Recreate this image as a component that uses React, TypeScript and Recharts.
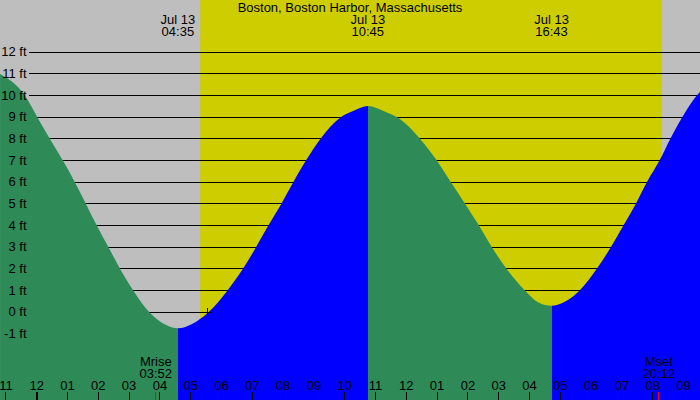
import React from 'react';
import { ComposedChart, Area, Scatter, XAxis, YAxis, CartesianGrid, ReferenceArea } from 'recharts';

const W = 700;
const H = 400;
const FONT = '"Liberation Sans", Arial, Helvetica, sans-serif';

const title = 'Boston, Boston Harbor, Massachusetts';

// tide curve (hours after midnight Jul 13, feet)
const tideHours = [
  -1.19, -0.38, 0.02, 0.43, 0.85, 1.24, 1.6, 1.95, 2.33, 2.71, 3.14, 3.66, 4.22, 4.583,
  5.03, 5.575, 6.19, 6.69, 7.12, 7.52, 7.94, 8.33, 8.74, 9.21, 9.87, 10.33, 10.75,
  11.31, 11.71, 12.45, 12.99, 13.45, 13.91, 14.36, 14.78, 15.26, 15.86, 16.29, 16.717,
  17.16, 17.62, 18.18, 18.64, 19.05, 19.45, 19.81, 20.22, 20.57, 20.96, 21.43, 21.536,
];
const tideFeet = [
  11.0, 10, 9, 8, 7, 6, 5, 4, 3, 2, 1, 0, -0.6, -0.74,
  -0.55, 0, 1, 2, 3, 4, 5, 6, 7, 8, 9, 9.33, 9.52,
  9.26, 9, 8, 7, 6, 5, 4, 3, 2, 1, 0.45, 0.3,
  0.5, 1, 2, 3, 4, 5, 6, 7, 8, 9, 10, 10.18,
];

// tide extremes (top labels)
const extremeHours = [4.583, 10.75, 16.717];
const extremeDates = ['Jul 13', 'Jul 13', 'Jul 13'];
const extremeTimes = ['04:35', '10:45', '16:43'];

// daylight
const sunriseHour = 5.31;
const sunsetHour = 20.3;

// moon
const moonHours = [3.867, 20.2];
const moonNames = ['Mrise', 'Mset'];
const moonTimes = ['03:52', '20:12'];

// axes
const hourTicks = [-1, 0, 1, 2, 3, 4, 5, 6, 7, 8, 9, 10, 11, 12, 13, 14, 15, 16, 17, 18, 19, 20, 21];
const footTicks = [-1, 0, 1, 2, 3, 4, 5, 6, 7, 8, 9, 10, 11, 12];

const markerHours = [5.55];
const markerFeet = [0];

const X_DOMAIN: [number, number] = [-1.1916, 21.536];
const Y_DOMAIN: [number, number] = [-4.047, 14.412];

const GRAY = '#BEBEBE';
const YELLOW = '#CDCD00';
const FALL = '#2E8B57';
const RISE = '#0000FF';

const points = tideHours.map((h, i) => ({ h, ft: tideFeet[i] }));
const markers = markerHours.map((h, i) => ({ h, ft: markerFeet[i] }));
const extremes = extremeHours.map((h, i) => ({
  h,
  ft: points.find((p) => p.h === h)!.ft,
  date: extremeDates[i],
  time: extremeTimes[i],
}));
const moons = moonHours.map((h, i) => ({ h, ft: Y_DOMAIN[0], name: moonNames[i], time: moonTimes[i] }));

// colour stops: falling water green, rising water blue, switching at each extreme
const span = tideHours[tideHours.length - 1] - tideHours[0];
const edges = [tideHours[0], ...extremeHours, tideHours[tideHours.length - 1]];
const stops: { offset: number; color: string }[] = [];
edges.slice(0, -1).forEach((a, i) => {
  const b = edges[i + 1];
  const seg = points.filter((p) => p.h >= a && p.h <= b);
  const color = seg[0].ft > seg[seg.length - 1].ft ? FALL : RISE;
  stops.push({ offset: (a - tideHours[0]) / span, color });
  stops.push({ offset: (b - tideHours[0]) / span, color });
});

const fmtHour = (h: number) => {
  let v = ((h % 12) + 12) % 12;
  if (v === 0) v = 12;
  return String(v).padStart(2, '0');
};

const textStyle = { fontFamily: FONT, fontSize: 13, fill: '#000' };

const HourTick = (props: any) => {
  const { x, payload } = props;
  const v = payload.value;
  return (
    <g>
      <line
        x1={x}
        x2={x}
        y1={392}
        y2={400}
        stroke="#000"
        strokeWidth={v % 24 === 0 ? 2 : 1}
        shapeRendering="crispEdges"
      />
      <text x={x} y={389.5} textAnchor="middle" {...textStyle}>
        {fmtHour(v)}
      </text>
    </g>
  );
};

const FootTick = (props: any) => {
  const { y, payload } = props;
  return (
    <text x={26.5} y={y + 4} textAnchor="end" {...textStyle}>
      {`${payload.value} ft`}
    </text>
  );
};

const MoonShape = (props: any) => {
  const { cx, cy, payload } = props;
  return (
    <g>
      <line x1={cx} x2={cx} y1={cy - 8} y2={cy} stroke="#FF0000" strokeWidth={1} shapeRendering="crispEdges" />
      <text x={cx} y={cy - 34} textAnchor="middle" {...textStyle}>
        {payload.name}
      </text>
      <text x={cx} y={cy - 22.5} textAnchor="middle" {...textStyle}>
        {payload.time}
      </text>
    </g>
  );
};

const TideLabel = (props: any) => {
  const { cx, payload } = props;
  return (
    <g>
      <text x={cx} y={24} textAnchor="middle" {...textStyle}>
        {payload.date}
      </text>
      <text x={cx} y={36} textAnchor="middle" {...textStyle}>
        {payload.time}
      </text>
    </g>
  );
};

const Plus = (props: any) => {
  const { cx, cy } = props;
  return (
    <g>
      <line x1={cx - 4.5} x2={cx + 4.5} y1={cy} y2={cy} stroke="#000" shapeRendering="crispEdges" />
      <line x1={cx} x2={cx} y1={cy - 4.5} y2={cy + 4.5} stroke="#000" shapeRendering="crispEdges" />
    </g>
  );
};

export default function App() {
  return (
    <div style={{ position: 'absolute', left: 0, top: 0, width: W, height: H, background: GRAY, overflow: 'hidden' }}>
      <ComposedChart width={W} height={H} margin={{ top: 0, right: 0, bottom: -1, left: -1 }}>
        <defs>
          <linearGradient id="tideFill" x1="0" y1="0" x2="1" y2="0">
            {stops.map((s, i) => (
              <stop key={i} offset={s.offset} stopColor={s.color} />
            ))}
          </linearGradient>
        </defs>
        <ReferenceArea
          x1={sunriseHour}
          x2={sunsetHour}
          fill={YELLOW}
          fillOpacity={1}
          stroke="none"
          zIndex={-200}
        />
        <CartesianGrid
          vertical={false}
          stroke="#000"
          x={29}
          width={671}
          syncWithTicks
          shapeRendering="crispEdges"
          zIndex={-100}
        />
        <Area
          data={points}
          dataKey="ft"
          type="monotone"
          fill="url(#tideFill)"
          fillOpacity={1}
          stroke="none"
          baseValue={Y_DOMAIN[0]}
          dot={false}
          activeDot={false}
          isAnimationActive={false}
        />
        <Scatter data={markers} dataKey="ft" shape={<Plus />} isAnimationActive={false} />
        <Scatter data={extremes} dataKey="ft" shape={<TideLabel />} isAnimationActive={false} />
        <Scatter data={moons} dataKey="ft" shape={<MoonShape />} isAnimationActive={false} />
        <XAxis
          dataKey="h"
          type="number"
          domain={X_DOMAIN}
          allowDataOverflow
          ticks={hourTicks}
          interval={0}
          height={1}
          axisLine={false}
          tickLine={false}
          tick={<HourTick />}
        />
        <YAxis
          type="number"
          domain={Y_DOMAIN}
          allowDataOverflow
          ticks={footTicks}
          interval={0}
          width={1}
          axisLine={false}
          tickLine={false}
          tick={<FootTick />}
        />
      </ComposedChart>
      <svg width={W} height={20} style={{ position: 'absolute', left: 0, top: 0 }}>
        <text x={350} y={11.5} textAnchor="middle" {...textStyle}>
          {title}
        </text>
      </svg>
    </div>
  );
}
